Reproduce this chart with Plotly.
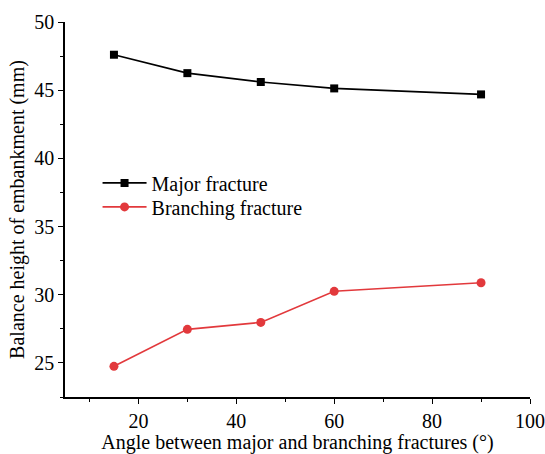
import plotly.graph_objects as go

angles = [15, 30, 45, 60, 90]
major_height = [47.6, 46.25, 45.6, 45.13, 44.69]
branching_height = [24.75, 27.46, 27.97, 30.25, 30.88]

x_ticks = [20, 40, 60, 80, 100]
y_ticks = [25, 30, 35, 40, 45, 50]

FONT = "Liberation Serif"
RED = "#e2393c"

fig = go.Figure()
fig.add_trace(go.Scatter(
    x=angles, y=major_height, name="Major fracture", mode="lines+markers",
    line=dict(color="black", width=1.6),
    marker=dict(symbol="square", size=8, color="black"),
    legend="legend", showlegend=True,
))
fig.add_trace(go.Scatter(
    x=angles, y=branching_height, name="Branching fracture", mode="lines+markers",
    line=dict(color=RED, width=1.6),
    marker=dict(symbol="circle", size=9, color=RED),
    legend="legend2", showlegend=True,
))

axis_common = dict(
    showline=True, linecolor="black", linewidth=1.5, mirror=False,
    showgrid=False, zeroline=False, automargin=False,
    ticks="outside", ticklen=5, tickwidth=1.2, tickcolor="black",
    tickfont=dict(family=FONT, size=20, color="black"),
)

fig.update_xaxes(
    range=[5, 100], tickvals=x_ticks,
    title=dict(text="Angle between major and branching fractures (°)",
               font=dict(family=FONT, size=20, color="black"), standoff=6),
    minor=dict(ticks="outside", ticklen=3, tickwidth=1.2, tickcolor="black",
               tick0=10, dtick=20),
    **axis_common,
)
fig.update_yaxes(
    range=[22.5, 50], tickvals=y_ticks,
    title=dict(text="Balance height of embankment (mm)",
               font=dict(family=FONT, size=20, color="black"), standoff=4),
    minor=dict(ticks="outside", ticklen=3, tickwidth=1.2, tickcolor="black",
               tick0=27.5, dtick=5),
    **axis_common,
)

legend_style = dict(xanchor="left", yanchor="middle", bgcolor="rgba(0,0,0,0)",
                    font=dict(family=FONT, size=20, color="black"), itemwidth=44,
                    visible=True)

fig.update_layout(
    width=545, height=454,
    margin=dict(l=65, r=15, t=22, b=57),
    plot_bgcolor="white", paper_bgcolor="white",
    font=dict(family=FONT, size=20, color="black"),
    showlegend=True,
    legend=dict(x=0.07, y=0.571, **legend_style),
    legend2=dict(x=0.07, y=0.507, **legend_style),
)

fig.write_html("out.html")
